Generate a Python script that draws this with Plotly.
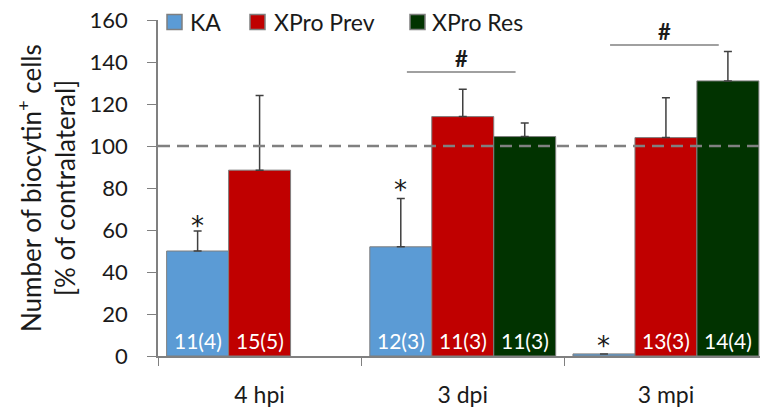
import plotly.graph_objects as go

categories = ["4 hpi", "3 dpi", "3 mpi"]
series_names = ["KA", "XPro Prev", "XPro Res"]
ka_vals = [50, 52, 1]
ka_err_top = [59.5, 75, None]
prev_vals = [88.5, 114, 104]
prev_err_top = [124, 127, 123]
res_vals = [None, 104.5, 131]
res_err_top = [None, 111, 145]
ka_n = ["11(4)", "12(3)", ""]
prev_n = ["15(5)", "11(3)", "13(3)"]
res_n = ["", "11(3)", "14(4)"]
star_y = [62, 79, 5]                           # "*" marks above KA bars
hash_marks = [(1, 135.2, 141.5), (2, 148.1, 154.5)]  # category, bracket y, "#" y

colors = ["#5B9BD5", "#C00000", "#013300"]
FONT = "Lato"
TXT = "#1a1a1a"

vals = [ka_vals, prev_vals, res_vals]
tops = [ka_err_top, prev_err_top, res_err_top]
ns = [ka_n, prev_n, res_n]

bargap = 0.085
slot = (1 - bargap) / 3
offsets = [-slot, 0, slot]

# plot-area geometry (pixels) used for paper-coordinate placement of decorations
L, R, T, B = 158, 760, 20, 356
def px_x(p):
    return (p - L) / (R - L)
def px_y(p):
    return (B - p) / (B - T)

fig = go.Figure()
for name, v, t, c in zip(series_names, vals, tops, colors):
    plus = [(tt - vv) if (tt is not None and vv is not None) else None for vv, tt in zip(v, t)]
    fig.add_trace(go.Bar(
        name=name, x=categories, y=v, showlegend=False,
        marker=dict(color=c, line=dict(color="#7f7f7f", width=1)),
        error_y=dict(type="data", symmetric=False, array=plus,
                     arrayminus=[0] * len(v), color="#404040",
                     thickness=1.5, width=4),
    ))

annotations = []
shapes = []

# n labels inside bars
for k in range(3):
    for i in range(3):
        if ns[k][i]:
            annotations.append(dict(
                x=i + offsets[k], y=0, xref="x", yref="y", text=ns[k][i],
                showarrow=False, yanchor="bottom", yshift=1,
                font=dict(family=FONT, size=21, color="white")))

# significance stars
for i, sy in enumerate(star_y):
    annotations.append(dict(x=i + offsets[0], y=sy, text="*", showarrow=False,
                            font=dict(family="DejaVu Sans", size=26, color=TXT)))

# reference line at 100
shapes.append(dict(type="line", xref="x domain", yref="y", x0=0, x1=1, y0=100, y1=100,
                   line=dict(color="#808080", width=2.5, dash="12px,7px")))

# "#" brackets
for cat, ly, hy in hash_marks:
    x0 = cat - 0.275
    x1 = cat + 0.26
    shapes.append(dict(type="line", xref="x", yref="y", x0=x0, x1=x1, y0=ly, y1=ly,
                       line=dict(color="#808080", width=1.5)))
    annotations.append(dict(x=(x0 + x1) / 2, y=hy, text="<b>#</b>", showarrow=False,
                            font=dict(family=FONT, size=22, color=TXT)))

# legend (drawn manually to match the spacing)
leg_sq = [167, 250, 410]
leg_tx = [188, 272, 430]
leg_y = 22
for name, c, sx, tx in zip(series_names, colors, leg_sq, leg_tx):
    shapes.append(dict(type="rect", xref="paper", yref="paper",
                       x0=px_x(sx), x1=px_x(sx + 15), y0=px_y(leg_y + 7.5), y1=px_y(leg_y - 7.5),
                       fillcolor=c, line=dict(color="#7f7f7f", width=1.5)))
    annotations.append(dict(x=px_x(tx), y=px_y(leg_y), xref="paper", yref="paper",
                            xanchor="left", yanchor="middle", text=name, showarrow=False,
                            font=dict(family=FONT, size=23, color=TXT)))

# y-axis title, two lines
annotations.append(dict(x=px_x(29), y=0.5, xref="paper", yref="paper", textangle=-90,
                        xanchor="center", yanchor="middle", showarrow=False,
                        text="Number of biocytin<sup>+</sup> cells",
                        font=dict(family=FONT, size=26, color=TXT)))
annotations.append(dict(x=px_x(65), y=0.5, xref="paper", yref="paper", textangle=-90,
                        xanchor="center", yanchor="middle", showarrow=False,
                        text="[% of contralateral]",
                        font=dict(family=FONT, size=26, color=TXT)))

fig.update_layout(
    width=760, height=410,
    margin=dict(l=L, r=760 - R, t=T, b=410 - B),
    barmode="group", bargap=bargap, bargroupgap=0,
    plot_bgcolor="white", paper_bgcolor="white",
    font=dict(family=FONT, size=22, color=TXT),
    showlegend=False,
    annotations=annotations, shapes=shapes,
)
fig.update_xaxes(type="category", tickson="boundaries", ticks="outside", ticklen=8,
                 tickcolor="#808080", showline=True, linecolor="#808080", linewidth=1.5,
                 range=[-0.5, 2.463], showgrid=False, ticklabelstandoff=18,
                 tickfont=dict(family=FONT, size=23, color=TXT))
fig.update_yaxes(range=[0, 160], dtick=20, ticks="outside", ticklen=9, tickcolor="#808080",
                 showline=True, linecolor="#808080", linewidth=1.5, showgrid=False,
                 zeroline=False, ticklabelstandoff=15,
                 tickfont=dict(family=FONT, size=22, color=TXT))

fig.write_html("out.html")
